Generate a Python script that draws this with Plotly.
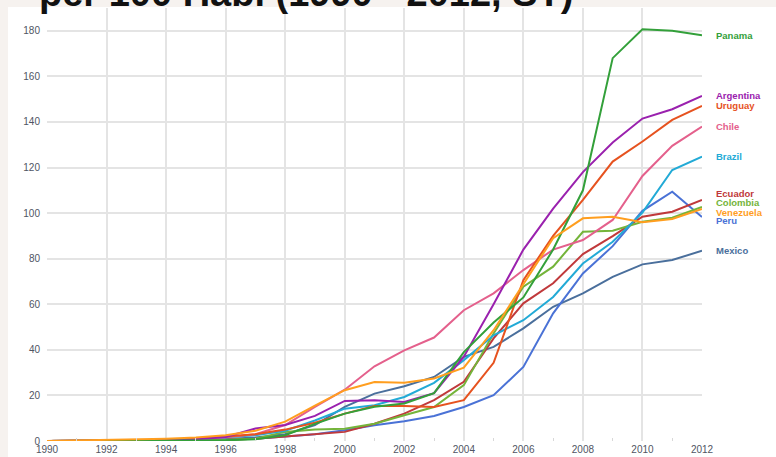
import plotly.graph_objects as go

# Mobile subscriptions per 100 inhabitants, 1990-2012
years = list(range(1990, 2013))

panama = [0, 0, 0, 0.1, 0.1, 0.2, 0.3, 0.8, 2.5, 7.5, 12, 15, 16.5, 21, 39, 52, 63, 84, 110, 168, 180.7, 180, 178]
argentina = [0, 0, 0.1, 0.2, 0.5, 0.8, 1.8, 5.5, 7, 11, 17.6, 17.9, 17.1, 21, 37, 60, 84, 102, 118, 131, 141.5, 145.6, 151.4]
uruguay = [0, 0, 0.1, 0.3, 0.6, 1, 2, 3, 5, 8, 12, 15.4, 15.4, 14.9, 17.9, 34.3, 70.6, 90, 105.8, 122.6, 131.4, 140.9, 147]
chile = [0, 0, 0.1, 0.2, 0.5, 0.9, 1.7, 3, 7, 15, 22.5, 32.8, 39.8, 45.4, 57.4, 64.8, 75, 84, 88.2, 97, 116.3, 129.5, 138]
brazil = [0, 0, 0, 0.1, 0.3, 0.8, 1.5, 2.5, 4.5, 9, 14.2, 15.7, 19.3, 25.5, 35.5, 46.4, 53, 63.2, 77.9, 87.4, 100.2, 118.9, 124.8]
ecuador = [0, 0, 0, 0, 0.1, 0.3, 0.5, 1, 2, 3, 4, 7.6, 12, 17.9, 26, 45, 60.4, 69.2, 82, 89.9, 98.4, 100.6, 105.8]
colombia = [0, 0, 0, 0.1, 0.2, 0.3, 0.5, 1, 4, 5, 5.4, 7.6, 11.3, 14.9, 24.5, 47.2, 67.7, 76.5, 91.8, 92.3, 96.2, 98, 102.7]
venezuela = [0, 0.2, 0.4, 0.7, 1, 1.5, 2.5, 4.5, 8.5, 15.5, 22.3, 25.9, 25.6, 27.4, 32.2, 48.6, 69.1, 89, 97.7, 98.4, 96, 97.4, 101.8]
peru = [0, 0, 0, 0.1, 0.2, 0.4, 0.6, 1, 2, 3, 4.7, 6.9, 8.7, 11, 14.9, 20.1, 32.5, 56, 73.5, 85.5, 101, 109.4, 98.3]
mexico = [0, 0, 0.1, 0.2, 0.4, 0.6, 0.9, 1.5, 3, 7, 15, 20.8, 24, 28.1, 36.9, 41.3, 49.4, 58.9, 64.8, 72, 77.5, 79.4, 83.5]

series = [
    ("Mexico", mexico, "#4a6f9c"),
    ("Peru", peru, "#4a72d6"),
    ("Ecuador", ecuador, "#c0393b"),
    ("Colombia", colombia, "#74b43a"),
    ("Brazil", brazil, "#22aad6"),
    ("Chile", chile, "#e4608c"),
    ("Uruguay", uruguay, "#e6521f"),
    ("Argentina", argentina, "#9a21ae"),
    ("Panama", panama, "#33a03a"),
    ("Venezuela", venezuela, "#ff9e1f"),
]

# small vertical nudges (px) so the end labels don't collide
label_shift = {"Ecuador": 6, "Colombia": 4, "Venezuela": -3, "Peru": -4}

# plot area in pixels: x 47..702, y 8..441
L, R, T, B = 47, 74, 8, 16
W, H = 776, 457
pw, ph = W - L - R, H - T - B

fig = go.Figure()

for name, vals, color in series:
    fig.add_trace(go.Scatter(
        x=years,
        y=vals,
        mode="lines",
        name=name,
        line=dict(color=color, width=2),
        hovertemplate="%{y:.1f}<extra>" + name + "</extra>",
    ))
    fig.add_annotation(
        x=years[-1], y=vals[-1],
        text="<b>" + name + "</b>",
        showarrow=False,
        xanchor="left", yanchor="middle",
        xshift=12, yshift=label_shift.get(name, 0),
        font=dict(family="Liberation Sans, Arial", size=9.5, color=color),
    )

# slide title, cut off by the top edge of the picture
fig.add_annotation(
    xref="paper", yref="paper",
    x=(37 - L) / pw, y=(H - B - 16) / ph,
    text="<b>per 100 Habi (1990 - 2012, ST)</b>",
    showarrow=False, xanchor="left", yanchor="bottom",
    font=dict(family="Liberation Sans, Arial", size=38, color="#111111"),
)

# white chart panel on the beige slide
fig.add_shape(
    type="rect", xref="paper", yref="paper", layer="below",
    x0=(8 - L) / pw, x1=(W - L) / pw,
    y0=-B / ph, y1=(H - B - 7) / ph,
    fillcolor="white", line=dict(width=0),
)

fig.update_layout(
    width=W, height=H,
    margin=dict(l=L, r=R, t=T, b=B),
    paper_bgcolor="#f6f2ef",
    plot_bgcolor="white",
    showlegend=False,
    font=dict(family="Liberation Sans, Arial", size=10, color="#505563"),
    xaxis=dict(
        range=[1990, 2012],
        tick0=1990, dtick=2,
        showgrid=True, gridcolor="#e4e4e4", gridwidth=2,
        zeroline=False, showline=False, automargin=False,
        ticks="", ticklabelstandoff=1,
        minor=dict(dtick=1, tick0=1991, ticks="inside", ticklen=3,
                   tickcolor="#d8d8d8", showgrid=False),
    ),
    yaxis=dict(
        range=[0, 190],
        tick0=0, dtick=20,
        showgrid=True, gridcolor="#e4e4e4", gridwidth=2,
        zeroline=False, showline=False, automargin=False,
        ticks="", ticklabelstandoff=6,
    ),
)

# drop the default page margin so the figure sits at the window's corner
fig.write_html("out.html", config={"displayModeBar": False},
               post_script="document.body.style.margin='0';")
